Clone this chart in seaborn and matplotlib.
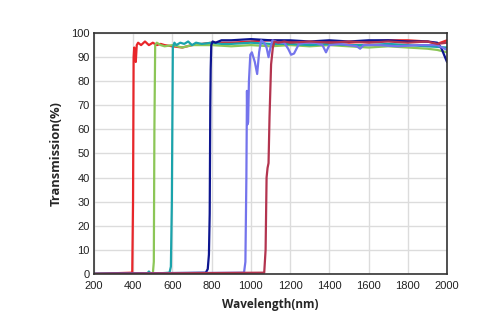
import matplotlib
matplotlib.use("Agg")
import matplotlib.pyplot as plt
import seaborn as sns
import pandas as pd

# ---- data ----
red_wl = [200, 395, 399, 402, 405, 409, 413, 418, 425, 440, 460, 480, 500, 520, 540, 560, 600, 650, 700, 750, 800, 900,
          1000, 1100, 1200, 1300, 1400, 1500, 1600, 1700, 1800, 1900, 1950, 2000]
red_t = [0, 0.5, 30, 90, 94, 90, 88, 95, 96, 95, 96.5, 95, 96, 95, 95.5, 95, 94.5, 94, 95, 95.5, 96, 96,
         96.5, 97, 96.5, 96, 96.5, 96, 96.5, 97, 97, 96.5, 95.5, 97]

green_wl = [200, 500, 505, 508, 512, 520, 540, 560, 600, 650, 700, 800, 900, 1000, 1100, 1200, 1300, 1400, 1500,
            1600, 1700, 1800, 1900, 1950, 2000]
green_t = [0, 0, 5, 60, 95, 96, 95, 94.5, 95, 94, 95, 95, 94.5, 95, 94.5, 95, 94.5, 95, 94.5,
           94, 94.5, 94, 93.5, 93, 92]

teal_wl = [200, 470, 480, 490, 585, 592, 597, 602, 610, 620, 640, 660, 680, 700, 720, 750, 800, 850, 900, 1000,
           1100, 1200, 1300, 1400, 1500, 1600, 1700, 1800, 1900, 2000]
teal_t = [0, 0, 1, 0, 0.5, 3, 30, 94, 96, 95, 96, 95.5, 96.5, 95, 96, 95.5, 96, 95.5, 95.5, 96,
          95.5, 95.5, 95, 95.5, 95, 95, 95.5, 95, 94.5, 94]

navy_wl = [200, 770, 780, 786, 790, 793, 795, 798, 805, 820, 850, 900, 1000, 1100, 1200, 1300, 1400, 1500, 1600,
           1700, 1800, 1900, 1950, 1970, 1985, 2000]
navy_t = [0, 0.5, 2, 8, 25, 70, 85, 95, 96.5, 96, 97, 97, 97.5, 97, 97, 96.5, 97, 96.5, 97,
          97, 96.5, 96.5, 96, 94, 91, 88]

violet_wl = [200, 965, 972, 977, 980, 982, 986, 990, 997, 1005, 1020, 1032, 1042, 1052, 1068, 1080, 1090, 1100,
             1110, 1140, 1170, 1190, 1205, 1220, 1245, 1280, 1330, 1365, 1383, 1400, 1450, 1500, 1540, 1557, 1575,
             1650, 1750, 1850, 1950, 2000]
violet_t = [0, 0.5, 5, 40, 76, 62, 63, 80, 91, 92, 88, 83, 92, 97, 96, 94, 90, 94, 97, 96, 96, 93.5, 91, 91.5, 95.5,
            96, 96, 95, 92, 95, 95.5, 95, 94.5, 93.5, 95, 95, 94.5, 95, 95, 93]

crimson_wl = [200, 1068, 1075, 1080, 1085, 1090, 1095, 1103, 1112, 1120, 1140, 1170, 1200, 1300, 1400, 1500,
              1600, 1700, 1800, 1900, 1950, 2000]
crimson_t = [0, 0.5, 10, 40, 44, 46, 65, 87, 94, 96.5, 96, 96.5, 96, 96.5, 96, 96.5,
             96, 96.5, 96, 96.5, 95.5, 96]

series = [
    ("red", red_wl, red_t, "#e8262a"),
    ("green", green_wl, green_t, "#8cc657"),
    ("teal", teal_wl, teal_t, "#1aa3ab"),
    ("navy", navy_wl, navy_t, "#0d1590"),
    ("violet", violet_wl, violet_t, "#7474ec"),
    ("crimson", crimson_wl, crimson_t, "#b3344f"),
]

x_ticks = list(range(200, 2001, 200))
y_ticks = list(range(0, 101, 10))

sns.set_style("white")
plt.rcParams['font.family'] = ['Liberation Sans', 'DejaVu Sans']

fig = plt.figure(figsize=(5.0, 3.34), dpi=100)
ax = fig.add_axes([0.188, 0.18, 0.706, 0.721])

for name, wl, t, c in series:
    df = pd.DataFrame({"wl": wl, "t": t})
    sns.lineplot(data=df, x="wl", y="t", ax=ax, color=c, linewidth=1.6, estimator=None, sort=False)

ax.set_xlim(200, 2000)
ax.set_ylim(0, 100)
ax.set_xticks(x_ticks)
ax.set_yticks(y_ticks)
ax.set_xticklabels([str(v) for v in x_ticks], fontsize=8)
ax.set_yticklabels([str(v) for v in y_ticks], fontsize=8)
ax.tick_params(axis='y', length=0, pad=3, colors='#222222')
ax.tick_params(axis='x', length=0, pad=5, colors='#222222')
ax.grid(True, color='#dcdcdc', linewidth=1.0)
ax.set_axisbelow(True)
for s in ax.spines.values():
    s.set_color('#333333')
    s.set_linewidth(1.2)

ax.set_xlabel("Wavelength(nm)", fontsize=8.5, fontweight='bold', family=['Open Sans', 'DejaVu Sans'], labelpad=5)
ax.set_ylabel("Transmission(%)", fontsize=9.3, fontweight='bold', family=['Open Sans', 'DejaVu Sans'], labelpad=6)

fig.savefig("out.png", dpi=100)
